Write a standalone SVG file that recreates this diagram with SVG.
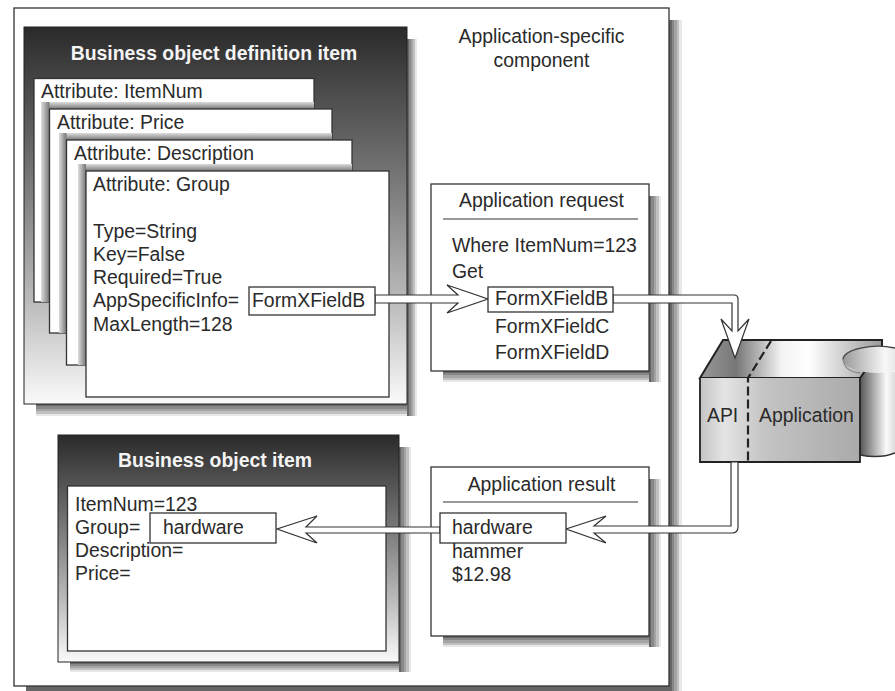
<svg xmlns="http://www.w3.org/2000/svg" width="895" height="691" viewBox="0 0 895 691">
<style>
text{font-family:"Liberation Sans",Arial,sans-serif;font-size:19.4px;fill:#2a2a2a}
.b{font-weight:bold;fill:#f4f4f4}
.box{fill:#fff;stroke:#333;stroke-width:1.3}
.arrow{fill:#fff;stroke:#333;stroke-width:1.2;stroke-linejoin:miter}
.m{text-anchor:middle}
</style>
<defs>
<linearGradient id="dark" x1="0" y1="0" x2="0" y2="1"><stop offset="0" stop-color="#2a2a2a"/><stop offset=".45" stop-color="#808080"/><stop offset=".75" stop-color="#c0c0c0"/><stop offset="1" stop-color="#fafafa"/></linearGradient>
<linearGradient id="sr" x1="0" y1="0" x2="1" y2="0">
<stop offset="0" stop-color="#666"/><stop offset=".2" stop-color="#666"/><stop offset=".2" stop-color="#888"/><stop offset=".4" stop-color="#888"/><stop offset=".4" stop-color="#a4a4a4"/><stop offset=".6" stop-color="#a4a4a4"/><stop offset=".6" stop-color="#c0c0c0"/><stop offset=".8" stop-color="#c0c0c0"/><stop offset=".8" stop-color="#e8e8e8"/><stop offset="1" stop-color="#e8e8e8"/></linearGradient>
<linearGradient id="sb" x1="0" y1="0" x2="0" y2="1">
<stop offset="0" stop-color="#666"/><stop offset=".2" stop-color="#666"/><stop offset=".2" stop-color="#888"/><stop offset=".4" stop-color="#888"/><stop offset=".4" stop-color="#a4a4a4"/><stop offset=".6" stop-color="#a4a4a4"/><stop offset=".6" stop-color="#c0c0c0"/><stop offset=".8" stop-color="#c0c0c0"/><stop offset=".8" stop-color="#e8e8e8"/><stop offset="1" stop-color="#e8e8e8"/></linearGradient>
<linearGradient id="sbu" x1="0" y1="1" x2="0" y2="0"><stop offset="0" stop-color="#777"/><stop offset="1" stop-color="#ddd"/></linearGradient>
<linearGradient id="slr" x1="1" y1="0" x2="0" y2="0"><stop offset="0" stop-color="#777"/><stop offset="1" stop-color="#ddd"/></linearGradient>
<linearGradient id="top" x1="0" y1="0" x2="1" y2="0"><stop offset="0" stop-color="#999"/><stop offset=".2" stop-color="#777"/><stop offset=".45" stop-color="#f4f4f4"/><stop offset=".6" stop-color="#fff"/><stop offset="1" stop-color="#999"/></linearGradient>
<linearGradient id="front" x1="0" y1="0" x2="1" y2="0"><stop offset="0" stop-color="#c4c4c4"/><stop offset=".15" stop-color="#e4e4e4"/><stop offset=".4" stop-color="#c4c4c4"/><stop offset="1" stop-color="#aaa"/></linearGradient>
<linearGradient id="cyl" x1="0" y1="0" x2="1" y2="0"><stop offset="0" stop-color="#555"/><stop offset=".75" stop-color="#fafafa"/><stop offset="1" stop-color="#ddd"/></linearGradient>
<linearGradient id="cylt" x1="0" y1="0" x2="1" y2="0"><stop offset="0" stop-color="#999"/><stop offset=".6" stop-color="#f8f8f8"/><stop offset="1" stop-color="#ccc"/></linearGradient>
</defs>
<rect width="895" height="691" fill="#fff"/>

<g id="component">
<rect x="669" y="20" width="13" height="671" fill="url(#sr)"/>
<rect x="26" y="686" width="643" height="5" fill="#666"/>
<rect class="box" x="14" y="8" width="655" height="678"/>
<text class="m" x="541.5" y="43">Application-specific</text>
<text class="m" x="541.5" y="66.5">component</text>
</g>

<g id="definition-item">
<rect x="407" y="39" width="10" height="377" fill="url(#sr)"/>
<rect x="36" y="404" width="371" height="12" fill="url(#sb)"/>
<rect x="24" y="27" width="383" height="377" fill="url(#dark)" stroke="#222" stroke-width="1"/>
<text class="b m" x="214" y="60">Business object definition item</text>
</g>

<g id="attribute-itemnum">
<rect class="box" x="34" y="78.500" width="280" height="223.500"/>
<text x="41" y="98">Attribute: ItemNum</text>
</g>
<g id="attribute-price">
<rect x="41" y="102" width="273" height="7" fill="url(#sbu)"/>
<rect x="41" y="102" width="8.500" height="200" fill="url(#slr)"/>
<rect class="box" x="49.500" y="109" width="282.500" height="224"/>
<text x="57" y="128.500">Attribute: Price</text>
</g>
<g id="attribute-description">
<rect x="59" y="133" width="273" height="7" fill="url(#sbu)"/>
<rect x="59" y="133" width="7.500" height="200" fill="url(#slr)"/>
<rect class="box" x="66.500" y="140" width="285.500" height="225"/>
<text x="74" y="159.500">Attribute: Description</text>
</g>
<g id="attribute-group">
<rect x="78" y="164" width="274" height="7" fill="url(#sbu)"/>
<rect x="78" y="164" width="8" height="201" fill="url(#slr)"/>
<rect class="box" x="86" y="171" width="303" height="226"/>
<text x="93" y="190.500">Attribute: Group</text>
<text x="93" y="238">Type=String</text>
<text x="93" y="261">Key=False</text>
<text x="93" y="284">Required=True</text>
<text x="93" y="307">AppSpecificInfo=</text>
<text x="93" y="331">MaxLength=128</text>
</g>

<g id="application-request">
<rect x="649" y="196" width="12" height="186" fill="url(#sr)"/>
<rect x="443" y="371" width="206" height="11" fill="url(#sb)"/>
<rect class="box" x="431" y="184" width="218" height="187"/>
<text class="m" x="541.500" y="207">Application request</text>
<line x1="443" y1="219" x2="638" y2="219" stroke="#333"/>
<text x="452" y="252">Where ItemNum=123</text>
<text x="452" y="278">Get</text>
<text x="495" y="333">FormXFieldC</text>
<text x="495" y="359">FormXFieldD</text>
</g>

<g id="business-object-item">
<rect x="399" y="447" width="12" height="225" fill="url(#sr)"/>
<rect x="70" y="662" width="329" height="10" fill="url(#sb)"/>
<rect x="58" y="435" width="341" height="227" fill="url(#dark)" stroke="#222" stroke-width="1"/>
<rect class="box" x="67.500" y="486" width="318.500" height="165"/>
<text class="b m" x="215" y="467">Business object item</text>
<text x="75" y="511">ItemNum=123</text>
<text x="75" y="534">Group=</text>
<text x="75" y="557">Description=</text>
<text x="75" y="580">Price=</text>
</g>

<g id="application-result">
<rect x="649" y="479" width="12" height="168" fill="url(#sr)"/>
<rect x="443" y="636" width="206" height="11" fill="url(#sb)"/>
<rect class="box" x="431" y="467" width="218" height="169"/>
<text class="m" x="541.500" y="491">Application result</text>
<line x1="443" y1="502" x2="638" y2="502" stroke="#333"/>
<text x="452" y="558">hammer</text>
<text x="452" y="581">$12.98</text>
</g>

<g id="application">
<path d="M860 372H895V453Q880 459 860 455Z" fill="url(#cyl)"/>
<path d="M700 378L723 340H882V347L860 378Z" fill="url(#top)" stroke="#222" stroke-width="2"/>
<ellipse cx="878" cy="359.500" rx="35" ry="13.500" fill="url(#cylt)"/>
<path d="M843 359.500A35 13.500 0 0 1 895 348" fill="none" stroke="#444" stroke-width="1.3"/>
<path d="M843 359.500Q845 372 860 373" fill="none" stroke="#888" stroke-width="1.3"/>
<path d="M860 455Q880 459 895 453" fill="none" stroke="#333" stroke-width="1.5"/>
<rect x="700" y="378" width="160" height="84" fill="url(#front)"/>
<path d="M700 378V462H860V378" fill="none" stroke="#222" stroke-width="1.8"/>
<path d="M771 341L748 378V462" fill="none" stroke="#222" stroke-width="2.200" stroke-dasharray="9 4"/>
<text x="707" y="422">API</text>
<text x="759" y="422">Application</text>
</g>

<g id="connectors">
<path class="arrow" d="M375 295H458L447 285L488 299L447 313L458 303H375Z"/>
<path class="arrow" d="M613 295H734Q738 295 738 299V331L749 319L735 358L721 319L732 331V303H613Z"/>
<path class="arrow" d="M738 462V527Q738 533 732 533H594L606 543L566 529L606 516L594 526H731V462Z"/>
<path class="arrow" d="M440 527H306L317 516L277 529L317 543L306 533H440Z"/>
</g>

<g id="field-b-source">
<rect class="box" x="249" y="287" width="126" height="28"/>
<text x="252" y="307">FormXFieldB</text>
</g>
<g id="field-b-target">
<rect class="box" x="488" y="287" width="125" height="25"/>
<text x="495" y="305">FormXFieldB</text>
</g>
<g id="hardware-source">
<rect class="box" x="440" y="513" width="126" height="30"/>
<text x="452" y="534">hardware</text>
</g>
<g id="hardware-target">
<rect class="box" x="150" y="513" width="126" height="30"/>
<text x="163" y="534">hardware</text>
</g>
</svg>
